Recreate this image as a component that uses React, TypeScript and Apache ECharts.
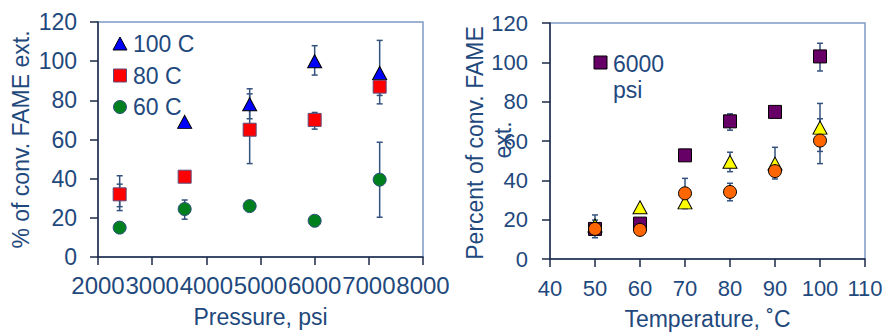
import React, { useEffect, useRef } from "react";
import * as echarts from "echarts";

// ---------- Left chart data ----------
const pressure = [2400, 3600, 4800, 6000, 7200];
const c100 = [null, 69, 78, 100, 94];
const c80 = [32, 41, 65, 70, 87];
const c60 = [15, 24.5, 26, 18.5, 39.5];
// error bars: [x, low, high]
const leftErrorBars = [
  [2400, 23.7, 41.5],
  [2400, 25.7, 37.2],
  [3600, 19.3, 29.1],
  [4800, 70.6, 85.9],
  [4800, 47.7, 83.3],
  [6000, 92.9, 107.9],
  [6000, 65.3, 73.8],
  [7200, 78.2, 110.6],
  [7200, 82.5, 91.7],
  [7200, 20.3, 58.6],
];
const leftXTicks = { min: 2000, max: 8000, step: 1000 };
const leftYTicks = { min: 0, max: 120, step: 20 };
const leftLegend = ["100 C", "80 C", "60 C"];

// ---------- Right chart data ----------
const temperature = [50, 60, 70, 80, 90, 100];
const psi6000 = [15.3, 18, 52.7, 70, 74.8, 103];
const seriesYellow = [17, 26.3, 28.8, 49.4, 48.5, 66.8];
const seriesOrange = [15.3, 14.8, 33.4, 34.1, 44.7, 60.2];
const rightErrorBars = [
  [50, 10.8, 22.4],
  [50, 12, 19.8],
  [70, 25.6, 41],
  [80, 65.5, 73.8],
  [80, 44.4, 54.3],
  [80, 29.6, 38.5],
  [90, 40.7, 56.8],
  [100, 95.6, 109.7],
  [100, 54.7, 79.1],
  [100, 48.5, 71.3],
];
const rightXTicks = { min: 40, max: 110, step: 10 };
const rightYTicks = { min: 0, max: 120, step: 20 };
const rightLegend = ["6000", "psi"];
const rightYName = ["Percent of conv. FAME", "ext."];

const TEXT = "#1F497D";
const AXIS = "#1B2A47";
const BORDER = "#7F9BC5";
const ERR = "#34527E";
const FONT = "Liberation Sans, Arial, sans-serif";

const zip = (xs: number[], ys: (number | null)[]) =>
  xs.map((x, i) => [x, ys[i]]).filter((d) => d[1] !== null);

const errRender = (params: any, api: any) => {
  const x = api.value(0);
  const lo = api.value(1);
  const hi = api.value(2);
  const p1 = api.coord([x, lo]);
  const p2 = api.coord([x, hi]);
  const w = 3;
  const style = { stroke: ERR, lineWidth: 1.5, fill: null };
  return {
    type: "group",
    children: [
      { type: "line", shape: { x1: p1[0], y1: p1[1], x2: p2[0], y2: p2[1] }, style },
      { type: "line", shape: { x1: p1[0] - w, y1: p1[1], x2: p1[0] + w, y2: p1[1] }, style },
      { type: "line", shape: { x1: p2[0] - w, y1: p2[1], x2: p2[0] + w, y2: p2[1] }, style },
    ],
  };
};

const axisCommon = (fontSize: number, margin: number) => ({
  type: "value" as const,
  axisLine: { show: true, onZero: false, lineStyle: { color: AXIS, width: 1.5 } },
  axisTick: { show: true, inside: false, length: 8, lineStyle: { color: AXIS, width: 1.5 } },
  splitLine: { show: false },
  axisLabel: {
    color: TEXT,
    fontSize,
    fontFamily: FONT,
    margin,
    showMinLabel: true,
    showMaxLabel: true,
    hideOverlap: false,
    formatter: (v: number) => String(v),
  },
  nameLocation: "middle" as const,
  nameTextStyle: { color: TEXT, fontSize: 23, fontFamily: FONT },
});

const textStyle = (text: string, extra: any = {}) => ({
  text,
  fill: TEXT,
  fontSize: 23,
  fontFamily: FONT,
  verticalAlign: "middle",
  ...extra,
});

export default function App() {
  const ref = useRef<HTMLDivElement>(null);
  useEffect(() => {
    if (!ref.current) return;
    const chart = echarts.init(ref.current, null, { renderer: "svg" });
    const scatterStyle = (color: string, border: string) => ({
      color,
      borderColor: border,
      borderWidth: 1,
      opacity: 1,
    });
    const option: any = {
      animation: false,
      backgroundColor: "#ffffff",
      grid: [
        { left: 98, top: 22, width: 325, height: 235, show: true, borderColor: BORDER, borderWidth: 1.5, backgroundColor: "#fff" },
        { left: 550, top: 23, width: 315, height: 241, show: true, borderColor: BORDER, borderWidth: 1.5, backgroundColor: "#fff" },
      ],
      xAxis: [
        {
          ...axisCommon(24, 16),
          gridIndex: 0,
          min: leftXTicks.min,
          max: leftXTicks.max,
          interval: leftXTicks.step,
          name: "Pressure, psi",
          nameGap: 48,
        },
        {
          ...axisCommon(22, 18),
          gridIndex: 1,
          min: rightXTicks.min,
          max: rightXTicks.max,
          interval: rightXTicks.step,
          name: "Temperature, ˚C",
          nameGap: 48,
        },
      ],
      yAxis: [
        {
          ...axisCommon(23, 21),
          gridIndex: 0,
          min: leftYTicks.min,
          max: leftYTicks.max,
          interval: leftYTicks.step,
          name: "% of conv. FAME ext.",
          nameGap: 66,
        },
        {
          ...axisCommon(22, 22),
          gridIndex: 1,
          min: rightYTicks.min,
          max: rightYTicks.max,
          interval: rightYTicks.step,
        },
      ],
      series: [
        {
          type: "custom",
          xAxisIndex: 0,
          yAxisIndex: 0,
          renderItem: errRender,
          data: leftErrorBars,
          encode: { x: 0, y: [1, 2] },
          silent: true,
          z: 1,
        },
        {
          type: "scatter",
          name: leftLegend[0],
          xAxisIndex: 0,
          yAxisIndex: 0,
          symbol: "triangle",
          symbolSize: [14, 13],
          itemStyle: scatterStyle("#0000FF", "#000000"),
          data: zip(pressure, c100),
          z: 2,
        },
        {
          type: "scatter",
          name: leftLegend[1],
          xAxisIndex: 0,
          yAxisIndex: 0,
          symbol: "rect",
          symbolSize: 13,
          itemStyle: scatterStyle("#FF0000", "#5F4B7B"),
          data: zip(pressure, c80),
          z: 2,
        },
        {
          type: "scatter",
          name: leftLegend[2],
          xAxisIndex: 0,
          yAxisIndex: 0,
          symbol: "circle",
          symbolSize: 13,
          itemStyle: scatterStyle("#007F1F", "#2F4F7F"),
          data: zip(pressure, c60),
          z: 2,
        },
        {
          type: "custom",
          xAxisIndex: 1,
          yAxisIndex: 1,
          renderItem: errRender,
          data: rightErrorBars,
          encode: { x: 0, y: [1, 2] },
          silent: true,
          z: 1,
        },
        {
          type: "scatter",
          name: "6000 psi",
          xAxisIndex: 1,
          yAxisIndex: 1,
          symbol: "rect",
          symbolSize: 13,
          itemStyle: scatterStyle("#660066", "#000000"),
          data: zip(temperature, psi6000),
          z: 2,
        },
        {
          type: "scatter",
          name: "yellow",
          xAxisIndex: 1,
          yAxisIndex: 1,
          symbol: "triangle",
          symbolSize: [14, 13],
          itemStyle: scatterStyle("#FFFF00", "#000000"),
          data: zip(temperature, seriesYellow),
          z: 2,
        },
        {
          type: "scatter",
          name: "orange",
          xAxisIndex: 1,
          yAxisIndex: 1,
          symbol: "circle",
          symbolSize: 13,
          itemStyle: scatterStyle("#FF6600", "#000000"),
          data: zip(temperature, seriesOrange),
          z: 2,
        },
      ],
      graphic: [
        { type: "polygon", shape: { points: [[120, 37], [127, 50], [113, 50]] }, style: { fill: "#0000FF", stroke: "#000", lineWidth: 1 }, z: 10 },
        { type: "rect", shape: { x: 113.5, y: 69, width: 13, height: 13 }, style: { fill: "#FF0000", stroke: "#5F4B7B", lineWidth: 1 }, z: 10 },
        { type: "circle", shape: { cx: 120, cy: 107, r: 6.5 }, style: { fill: "#007F1F", stroke: "#2F4F7F", lineWidth: 1 }, z: 10 },
        { type: "text", x: 133, y: 44, style: textStyle(leftLegend[0]), z: 10 },
        { type: "text", x: 133, y: 75.5, style: textStyle(leftLegend[1]), z: 10 },
        { type: "text", x: 133, y: 107, style: textStyle(leftLegend[2]), z: 10 },
        { type: "rect", shape: { x: 594, y: 56, width: 13, height: 13 }, style: { fill: "#660066", stroke: "#000", lineWidth: 1 }, z: 10 },
        { type: "text", x: 613, y: 63.5, style: textStyle(rightLegend[0]), z: 10 },
        { type: "text", x: 613, y: 90, style: textStyle(rightLegend[1]), z: 10 },
        { type: "text", x: 475, y: 143, rotation: Math.PI / 2, style: textStyle(rightYName[0], { align: "center" }), z: 10 },
        { type: "text", x: 503, y: 140, rotation: Math.PI / 2, style: textStyle(rightYName[1], { align: "center" }), z: 10 },
      ],
    };
    chart.setOption(option);
    return () => chart.dispose();
  }, []);
  return (
    <div
      ref={ref}
      style={{ position: "absolute", left: 0, top: 0, width: 887, height: 335 }}
    />
  );
}
